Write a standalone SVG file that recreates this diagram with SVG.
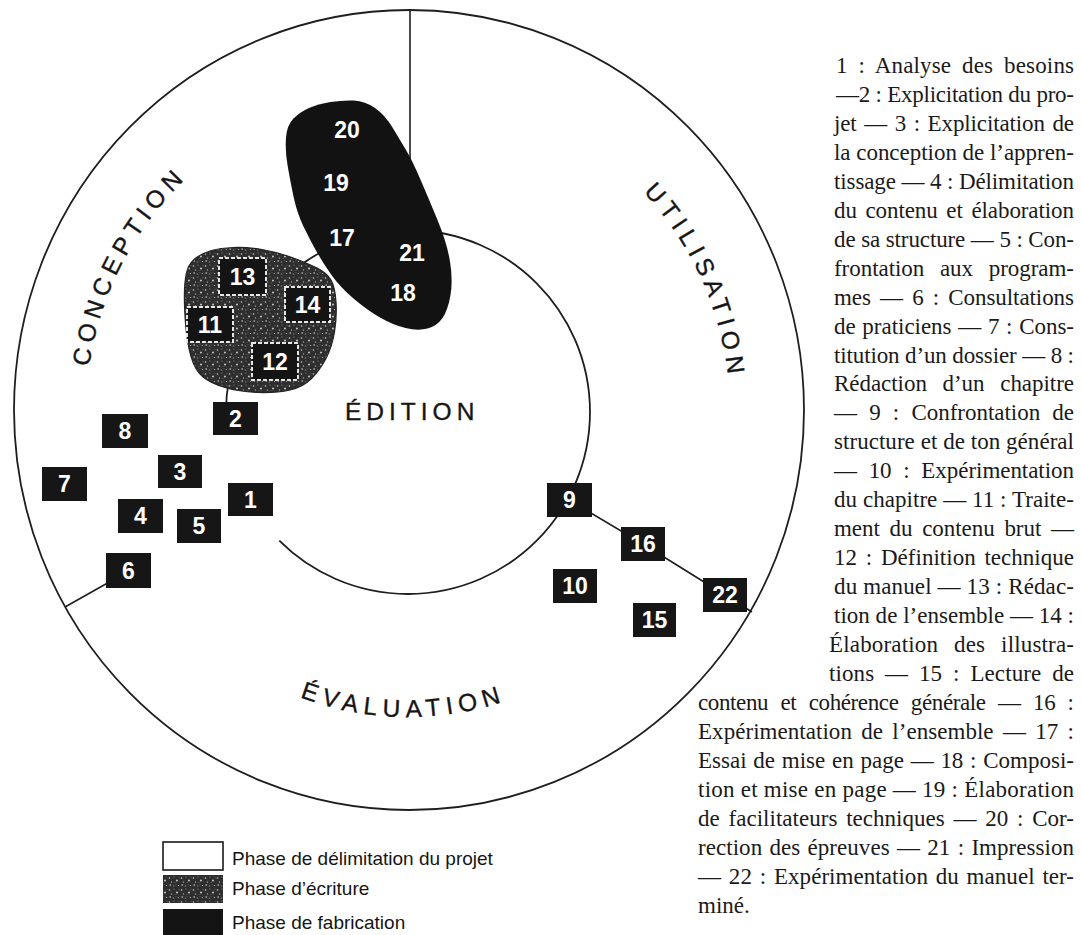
<svg xmlns="http://www.w3.org/2000/svg" width="1081" height="935" viewBox="0 0 1081 935">
<style>
.ring{fill:none;stroke:#1e1e1e;stroke-width:1.8}
.conn{fill:none;stroke:#1e1e1e;stroke-width:1.6}
.box{fill:#161616}
.bbox{fill:#141414;stroke:#e6e6e6;stroke-width:2;stroke-dasharray:4 2}
.num{font-family:"Liberation Sans",Arial,sans-serif;font-size:23px;font-weight:bold;fill:#ffffff;text-anchor:middle}
.lab{font-family:"Liberation Sans",Arial,sans-serif;font-size:24.5px;fill:#151515;stroke:#151515;stroke-width:0.35;letter-spacing:5.5px}
.leg{font-family:"Liberation Sans",Arial,sans-serif;font-size:19px;fill:#151515}
.body{font-family:"Liberation Serif","Times New Roman",serif;font-size:23px;fill:#1a1a1a}
</style>
<defs>
<pattern id="speck" width="12" height="12" patternUnits="userSpaceOnUse">
<rect width="12" height="12" fill="#2e2e2e"/>
<circle cx="1.5" cy="2" r=".8" fill="#c8c8c8"/>
<circle cx="6" cy="1" r=".6" fill="#8a8a8a"/>
<circle cx="9" cy="4.5" r=".9" fill="#d8d8d8"/>
<circle cx="3.5" cy="6" r=".7" fill="#a5a5a5"/>
<circle cx="10.5" cy="9.5" r=".6" fill="#c0c0c0"/>
<circle cx="5.5" cy="10" r=".8" fill="#7a7a7a"/>
<rect x="1.5" y="8.5" width="1.5" height="1" fill="#e6e6e6"/>
<circle cx="7" cy="6.5" r=".5" fill="#6a6a6a"/>
<circle cx="11" cy="1.5" r=".4" fill="#9a9a9a"/>
<rect x="7.5" y="8" width="1" height="1" fill="#555555"/>
</pattern>
<path id="ringCW" d="M 86,412 A 322 322 0 0 1 730,412 A 322 322 0 0 1 86,412"/>
<path id="ringBottom" d="M 103,412 A 305 305 0 0 0 713,412"/>
</defs>
<rect width="1081" height="935" fill="#ffffff"/>

<g id="rings">
<ellipse class="ring" cx="409" cy="410" rx="395" ry="400"/>
<path class="ring" d="M 279.3,283.3 A 182 182 0 1 1 279.3,540.7"/>
<path class="ring" d="M 226,412 A 182 182 0 0 1 237,349.8"/>
</g>

<g id="connectors">
<line class="conn" x1="410" y1="10" x2="410" y2="175"/>
<line class="conn" x1="120" y1="576" x2="65" y2="607"/>
<polyline class="conn" points="569,500 643,544 725,595 752,612"/>
</g>

<g id="ring-labels">
<text class="lab"><textPath href="#ringCW" startOffset="154.5" text-anchor="middle">CONCEPTION</textPath></text>
<text class="lab"><textPath href="#ringCW" startOffset="874" text-anchor="middle">UTILISATION</textPath></text>
<text class="lab" style="letter-spacing:6px"><textPath href="#ringBottom" startOffset="474" text-anchor="middle">ÉVALUATION</textPath></text>
<text class="lab" x="345" y="420" style="letter-spacing:5px">ÉDITION</text>
</g>

<g id="phase-fabrication">
<path fill="#121212" d="M 330.5,102 Q 343,100 354,100.5 Q 365,101 375,108 Q 385,115 392.5,127.5 Q 400,140 406,150 Q 412,160 420,178.5 Q 428,197 437.5,220 Q 447,243 450,261.5 Q 453,280 450.5,295 Q 448,310 442.5,318 Q 437,326 427.5,328.5 Q 418,331 405.5,328 Q 393,325 380,317.5 Q 367,310 353.5,298.5 Q 340,287 331.5,275 Q 323,263 316.5,251.5 Q 310,240 303.5,226.5 Q 297,213 293.5,196.5 Q 290,180 287.5,165 Q 285,150 286,137.5 Q 287,125 293.5,118.5 Q 300,112 309,108 Q 318,104 330.5,102 Z"/>
</g>
<g id="n20"><text class="num" x="347" y="138">20</text></g>
<g id="n19"><text class="num" x="336" y="191">19</text></g>
<g id="n17"><text class="num" x="342" y="246">17</text></g>
<g id="n21"><text class="num" x="412" y="261">21</text></g>
<g id="n18"><text class="num" x="403" y="301">18</text></g>

<g id="phase-ecriture">
<path fill="url(#speck)" stroke="#222222" stroke-width="1.2" d="M 187.5,269.5 Q 190,262 196.5,257.5 Q 203,253 211.5,250.5 Q 220,248 233.5,247.5 Q 247,247 262,249.5 Q 277,252 292,257.5 Q 307,263 317,268 Q 327,273 331,280 Q 335,287 336,302 Q 337,317 334.5,332 Q 332,347 326,358.5 Q 320,370 311.5,378.5 Q 303,387 290,390 Q 277,393 258.5,392.5 Q 240,392 225,387.5 Q 210,383 202.5,376.5 Q 195,370 191,356.5 Q 187,343 185.5,323 Q 184,303 184.5,290 Q 185,277 187.5,269.5 Z"/>
</g>
<g id="n13"><rect class="bbox" x="219" y="258" width="47" height="37"/><text class="num" x="242.5" y="285">13</text></g>
<g id="n14"><rect class="bbox" x="285" y="287" width="45" height="35"/><text class="num" x="307.5" y="313">14</text></g>
<g id="n11"><rect class="bbox" x="187" y="307" width="46" height="35"/><text class="num" x="210" y="333">11</text></g>
<g id="n12"><rect class="bbox" x="252" y="343" width="46" height="37"/><text class="num" x="275" y="370">12</text></g>

<g id="n1"><rect class="box" x="228" y="483" width="45" height="33"/><text class="num" x="250.5" y="508">1</text></g>
<g id="n2"><rect class="box" x="213" y="402" width="45" height="33"/><text class="num" x="235.5" y="427">2</text></g>
<g id="n3"><rect class="box" x="158" y="455" width="44" height="33"/><text class="num" x="180" y="480">3</text></g>
<g id="n4"><rect class="box" x="118" y="499" width="45" height="34"/><text class="num" x="140.5" y="524">4</text></g>
<g id="n5"><rect class="box" x="177" y="509" width="44" height="34"/><text class="num" x="199" y="534">5</text></g>
<g id="n6"><rect class="box" x="106" y="553" width="45" height="35"/><text class="num" x="128.5" y="579">6</text></g>
<g id="n7"><rect class="box" x="42" y="467" width="45" height="34"/><text class="num" x="64.5" y="492">7</text></g>
<g id="n8"><rect class="box" x="102" y="414" width="46" height="34"/><text class="num" x="125" y="439">8</text></g>
<g id="n9"><rect class="box" x="547" y="483" width="45" height="34"/><text class="num" x="569.5" y="508">9</text></g>
<g id="n10"><rect class="box" x="553" y="569" width="44" height="34"/><text class="num" x="575" y="594">10</text></g>
<g id="n15"><rect class="box" x="633" y="603" width="43" height="34"/><text class="num" x="654.5" y="628">15</text></g>
<g id="n16"><rect class="box" x="621" y="527" width="44" height="34"/><text class="num" x="643" y="552">16</text></g>
<g id="n22"><rect class="box" x="703" y="578" width="44" height="34"/><text class="num" x="725" y="603">22</text></g>

<g id="legend">
<rect x="163" y="842" width="60" height="28" fill="#ffffff" stroke="#1a1a1a" stroke-width="1.6"/>
<rect x="163" y="875" width="60" height="28" fill="url(#speck)"/>
<rect x="163" y="909" width="60" height="30" fill="#141414"/>
<text class="leg" x="232" y="865">Phase de délimitation du projet</text>
<text class="leg" x="232" y="895">Phase d’écriture</text>
<text class="leg" x="232" y="929">Phase de fabrication</text>
</g>

<g id="caption" class="body">
<text x="836" y="73" textLength="238" lengthAdjust="spacing" word-spacing="5">1 : Analyse des besoins</text>
<text x="836" y="101.95" textLength="238" lengthAdjust="spacing">—2 : Explicitation du pro-</text>
<text x="834" y="130.9" textLength="240" lengthAdjust="spacing" word-spacing="2">jet — 3 : Explicitation de</text>
<text x="834" y="159.85" textLength="240" lengthAdjust="spacing">la conception de l’appren-</text>
<text x="834" y="188.8" textLength="240" lengthAdjust="spacing">tissage — 4 : Délimitation</text>
<text x="834" y="217.75" textLength="240" lengthAdjust="spacing" word-spacing="3">du contenu et élaboration</text>
<text x="834" y="246.7" textLength="240" lengthAdjust="spacing">de sa structure — 5 : Con-</text>
<text x="834" y="275.65" textLength="240" lengthAdjust="spacing" word-spacing="10">frontation aux program-</text>
<text x="834" y="304.6" textLength="240" lengthAdjust="spacing" word-spacing="3.5">mes — 6 : Consultations</text>
<text x="834" y="333.55" textLength="240" lengthAdjust="spacing" word-spacing="1">de praticiens — 7 : Cons-</text>
<text x="834" y="362.5" textLength="240" lengthAdjust="spacing">titution d’un dossier — 8 :</text>
<text x="834" y="391.45" textLength="240" lengthAdjust="spacing" word-spacing="10">Rédaction d’un chapitre</text>
<text x="834" y="420.4" textLength="240" lengthAdjust="spacing" word-spacing="6.5">— 9 : Confrontation de</text>
<text x="834" y="449.35" textLength="240" lengthAdjust="spacing">structure et de ton général</text>
<text x="834" y="478.3" textLength="240" lengthAdjust="spacing" word-spacing="6">— 10 : Expérimentation</text>
<text x="834" y="507.25" textLength="240" lengthAdjust="spacing">du chapitre — 11 : Traite-</text>
<text x="834" y="536.2" textLength="240" lengthAdjust="spacing" word-spacing="4">ment du contenu brut —</text>
<text x="834" y="565.15" textLength="240" lengthAdjust="spacing" word-spacing="3">12 : Définition technique</text>
<text x="834" y="594.1" textLength="240" lengthAdjust="spacing">du manuel — 13 : Rédac-</text>
<text x="834" y="623.05" textLength="240" lengthAdjust="spacing">tion de l’ensemble — 14 :</text>
<text x="829" y="652" textLength="245" lengthAdjust="spacing" word-spacing="10">Élaboration des illustra-</text>
<text x="829" y="680.95" textLength="245" lengthAdjust="spacing" word-spacing="5">tions — 15 : Lecture de</text>
<text x="698" y="709.9" textLength="376" lengthAdjust="spacing" word-spacing="7">contenu et cohérence générale — 16 :</text>
<text x="698" y="738.85" textLength="376" lengthAdjust="spacing" word-spacing="3.5">Expérimentation de l’ensemble — 17 :</text>
<text x="698" y="767.8" textLength="376" lengthAdjust="spacing" word-spacing="1">Essai de mise en page — 18 : Composi-</text>
<text x="698" y="796.75" textLength="376" lengthAdjust="spacing">tion et mise en page — 19 : Élaboration</text>
<text x="698" y="825.7" textLength="376" lengthAdjust="spacing" word-spacing="3">de facilitateurs techniques — 20 : Cor-</text>
<text x="698" y="854.65" textLength="376" lengthAdjust="spacing" word-spacing="1.5">rection des épreuves — 21 : Impression</text>
<text x="698" y="883.6" textLength="376" lengthAdjust="spacing" word-spacing="2">— 22 : Expérimentation du manuel ter-</text>
<text x="698" y="912.55">miné.</text>
</g>
</svg>
